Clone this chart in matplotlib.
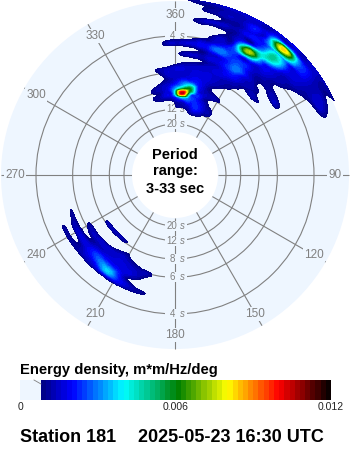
import numpy as np
import matplotlib
matplotlib.use('Agg')
import matplotlib.pyplot as plt
import matplotlib.tri as mtri
from matplotlib.colors import LinearSegmentedColormap

plt.rcParams['font.family'] = ['Liberation Sans', 'DejaVu Sans']

# colour scale, energy in units of 1e-4 m*m/Hz/deg
scale_stops = [8, 20, 40, 61, 80, 100, 120]
scale_colors = ['#000080', '#0000ff', '#00ffff', '#008000', '#ffff00', '#ff0000', '#000000']
scale_ticks = [0, 60, 120]
scale_labels = ['0', '0.006', '0.012']

ring_periods = [4, 6, 8, 12, 20]
spoke_dirs = [0, 30, 60, 90, 120, 150, 180, 210, 240, 270, 300, 330]
spoke_labels = ['360', '30', '60', '90', '120', '150', '180', '210', '240', '270', '300', '330']

# north-east lobe
ne_dirs = [-20, -15, -10, -5, 0, 5, 10, 15, 20, 25, 30, 35, 40, 45, 50, 55, 60, 65, 70]
ne_periods = [3.0, 3.12, 3.21, 3.34, 3.44, 3.64, 3.83, 4.04, 4.27, 4.49, 4.73, 4.94, 5.18, 5.43, 5.71,
              6.38, 6.98, 7.72, 8.3, 8.98, 10.7, 12.9, 16.3]
ne_energy = [
    [0, 0, 0, 0, 0, 9, 12, 14, 15, 15, 15, 15, 16, 16, 15, 14, 12, 8, 0],
    [0, 0, 0, 0, 0, 3, 8, 11, 13, 14, 16, 22, 30, 26, 18, 14, 10, 5, 0],
    [0, 0, 0, 0, 0, 0, 6, 10, 13, 15, 20, 30, 82, 55, 24, 15, 13, 11, 0],
    [0, 0, 0, 0, 0, 0, 0, 6, 11, 14, 18, 26, 44, 34, 20, 15, 14, 15, 6],
    [0, 0, 0, 0, 0, 4, 13, 14, 13, 15, 19, 24, 42, 26, 17, 14, 13, 11, 0],
    [0, 0, 0, 0, 0, 0, 0, 1, 8, 16, 22, 36, 46, 24, 15, 12, 6, 0, 0],
    [0, 0, 0, 0, 0, 0, 2, 8, 14, 24, 72, 48, 22, 15, 12, 6, 0, 0, 0],
    [0, 0, 0, 0, 0, 3, 10, 13, 18, 25, 30, 24, 18, 14, 9, 0, 0, 0, 0],
    [0, 0, 0, 9, 14, 16, 18, 22, 30, 24, 20, 18, 14, 11, 5, 0, 0, 0, 0],
    [0, 0, 0, 0, 0, 3, 7, 13, 18, 22, 26, 18, 11, 10, 12, 7, 0, 0, 0],
    [0, 0, 0, 0, 4, 13, 14, 15, 17, 22, 30, 20, 12, 4, 9, 13, 0, 0, 0],
    [0, 0, 0, 0, 1, 4, 7, 11, 14, 20, 24, 16, 13, 8, 0, 0, 0, 0, 0],
    [0, 0, 0, 0, 1, 5, 8, 12, 15, 18, 20, 15, 12, 9, 0, 0, 0, 0, 0],
    [0, 0, 0, 1, 9, 13, 14, 15, 16, 17, 15, 12, 8, 13, 5, 0, 0, 0, 0],
    [0, 0, 9, 14, 16, 16, 16, 16, 16, 14, 12, 9, 3, 1, 0, 0, 0, 0, 0],
    [0, 0, 1, 11, 14, 16, 18, 18, 15, 11, 6, 0, 0, 0, 0, 0, 0, 0, 0],
    [0, 0, 7, 13, 18, 28, 32, 20, 12, 6, 0, 0, 0, 0, 0, 0, 0, 0, 0],
    [0, 10, 13, 17, 32, 60, 60, 22, 14, 13, 10, 0, 0, 0, 0, 0, 0, 0, 0],
    [0, 6, 11, 17, 40, 105, 40, 22, 14, 8, 0, 0, 0, 0, 0, 0, 0, 0, 0],
    [0, 9, 12, 14, 20, 36, 28, 22, 15, 8, 0, 0, 0, 0, 0, 0, 0, 0, 0],
    [0, 0, 0, 0, 7, 11, 14, 22, 20, 13, 10, 0, 0, 0, 0, 0, 0, 0, 0],
    [0, 0, 0, 0, 0, 0, 5, 10, 9, 4, 0, 0, 0, 0, 0, 0, 0, 0, 0],
    [0, 0, 0, 0, 0, 0, 0, 0, 0, 0, 0, 0, 0, 0, 0, 0, 0, 0, 0],
]

# south-west lobe
sw_dirs = [190, 195, 200, 205, 210, 215, 220, 225, 230, 235, 240, 245, 250, 255]
sw_periods = [4.54, 4.73, 4.94, 5.18, 5.43, 5.71, 6.03, 6.38, 6.77, 7.21, 7.72, 8.15, 8.63]
sw_energy = [
    [0, 0, 0, 0, 0, 0, 0, 0, 0, 0, 0, 0, 0, 0],
    [0, 9, 12, 15, 18, 18, 15, 13, 12, 11, 11, 9, 0, 0],
    [0, 0, 6, 14, 24, 36, 26, 18, 15, 8, 0, 0, 0, 0],
    [0, 0, 5, 9, 22, 30, 30, 24, 18, 15, 12, 8, 0, 0],
    [0, 3, 10, 15, 18, 20, 22, 22, 16, 14, 12, 11, 10, 0],
    [0, 7, 13, 16, 17, 17, 17, 15, 12, 6, 5, 3, 0, 0],
    [0, 11, 12, 14, 16, 16, 15, 14, 13, 12, 6, 0, 0, 0],
    [0, 0, 5, 10, 14, 15, 14, 13, 12, 11, 9, 0, 0, 0],
    [0, 0, 0, 3, 10, 10, 5, 0, 0, 0, 0, 0, 0, 0],
    [0, 0, 0, 0, 5, 0, 0, 0, 0, 0, 0, 0, 0, 0],
    [0, 0, 0, 0, 0, 0, 0, 0, 0, 0, 0, 0, 0, 0],
    [0, 0, 0, 0, 0, 8, 12, 13, 13, 11, 0, 0, 0, 0],
    [0, 0, 0, 0, 0, 0, 0, 0, 0, 0, 0, 0, 0, 0],
]

CX, CY = 175, 175
GRID = '#808080'
LABEL = '#808080'
DISK = '#eef6ff'


def period_radius(period):
    # rings are spaced linearly in frequency
    return 29 + 440 / np.asarray(period, dtype=float)


def polar_xy(direction, radius):
    a = np.radians(direction)
    return CX + radius * np.sin(a), CY - radius * np.cos(a)


def draw_lobe(ax, dirs, periods, energy, cmap, norm, levels):
    # smooth the table with matplotlib's tri refiner in index space, then place it on the disk
    ii, jj = np.meshgrid(np.arange(len(dirs)), np.arange(len(periods)))
    tri = mtri.Triangulation(ii.ravel().astype(float), jj.ravel().astype(float))
    fine, z = mtri.UniformTriRefiner(tri).refine_field(np.array(energy, dtype=float).ravel(), subdiv=3)
    d = np.interp(fine.x, np.arange(len(dirs)), dirs)
    r = np.interp(fine.y, np.arange(len(periods)), period_radius(periods))
    x, y = polar_xy(d, r)
    ax.tricontourf(mtri.Triangulation(x, y, fine.triangles), z, levels=levels, cmap=cmap, norm=norm,
                   zorder=3, antialiased=False)


stops = [(s - scale_stops[0]) / (scale_stops[-1] - scale_stops[0]) for s in scale_stops]
cmap = LinearSegmentedColormap.from_list('energy', list(zip(stops, scale_colors)), N=256)
norm = plt.Normalize(scale_stops[0], scale_stops[-1])

fig = plt.figure(figsize=(3.5, 4.5), dpi=100)
ax = fig.add_axes([0, 0, 1, 1])
ax.set_xlim(0, 350)
ax.set_ylim(450, 0)
ax.axis('off')

ax.add_patch(plt.Circle((CX, CY), 174, color=DISK, lw=0, zorder=0))

for period in ring_periods:
    ax.add_patch(plt.Circle((CX, CY), period_radius(period), fill=False, ec=GRID, lw=0.8, zorder=1))
for direction in spoke_dirs:
    x, y = polar_xy(np.array([direction, direction]), np.array([43, 174]))
    ax.plot(x, y, color=GRID, lw=0.8, zorder=1, solid_capstyle='butt')

levels = np.arange(8, 122, 2)
draw_lobe(ax, ne_dirs, ne_periods, ne_energy, cmap, norm, levels)
draw_lobe(ax, sw_dirs, sw_periods, sw_energy, cmap, norm, levels)

# white hole in the middle sits over the spokes
ax.add_patch(plt.Circle((CX, CY), 43, color='white', lw=0, zorder=2))

# the field covers the labels where they meet
for direction, label in zip(spoke_dirs, spoke_labels):
    x, y = polar_xy(direction, 160)
    ax.text(x, y, label, color=LABEL, fontsize=8.5, ha='center', va='center', zorder=2.5,
            bbox=dict(fc=DISK, ec='none', pad=0.8))

for period in ring_periods:
    r = period_radius(period)
    for sign in (-1, 1):
        ax.add_patch(plt.Rectangle((165, CY + sign * r - 5), 22, 10, color=DISK, lw=0, zorder=2.4))
        ax.text(172, CY + sign * r, str(period), color=LABEL, fontsize=7, ha='center', va='center', zorder=2.5)
        ax.text(182.5, CY + sign * r, 's', color=LABEL, fontsize=7, style='italic', ha='center', va='center',
                zorder=2.5)

ax.text(CX, 155, 'Period', fontsize=10.5, fontweight='bold', ha='center', va='center', zorder=5)
ax.text(CX, 171, 'range:', fontsize=10.5, fontweight='bold', ha='center', va='center', zorder=5)
ax.text(CX, 189, '3-33 sec', fontsize=10.5, fontweight='bold', ha='center', va='center', zorder=5)

# colour bar
bar_x0, bar_x1 = 20, 331
ax.text(bar_x0, 370, 'Energy density, m*m/Hz/deg', fontsize=10.6, fontweight='bold', ha='left', va='center')
bar_vals = np.arange(8, 120, 2) + 1.0
to_x = lambda v: bar_x0 + (np.asarray(v, dtype=float)) / 120 * (bar_x1 - bar_x0)
ax.add_patch(plt.Rectangle((bar_x0, 380), to_x(8) - bar_x0, 20, color=DISK, lw=0))
ax.plot([34, 41], [380, 384], color=GRID, lw=0.6)
ax.pcolormesh(to_x(np.arange(8, 122, 2)), [380, 400], bar_vals[None, :], cmap=cmap, norm=norm)
for tick, label in zip(scale_ticks, scale_labels):
    ax.text(to_x(tick), 407, label, fontsize=7.5, color='#222222', ha='center', va='center')

ax.text(20, 438, 'Station 181', fontsize=13, fontweight='bold', ha='left', va='center')
ax.text(138, 438, '2025-05-23 16:30 UTC', fontsize=13, fontweight='bold', ha='left', va='center')

fig.savefig('out.png', dpi=100)
